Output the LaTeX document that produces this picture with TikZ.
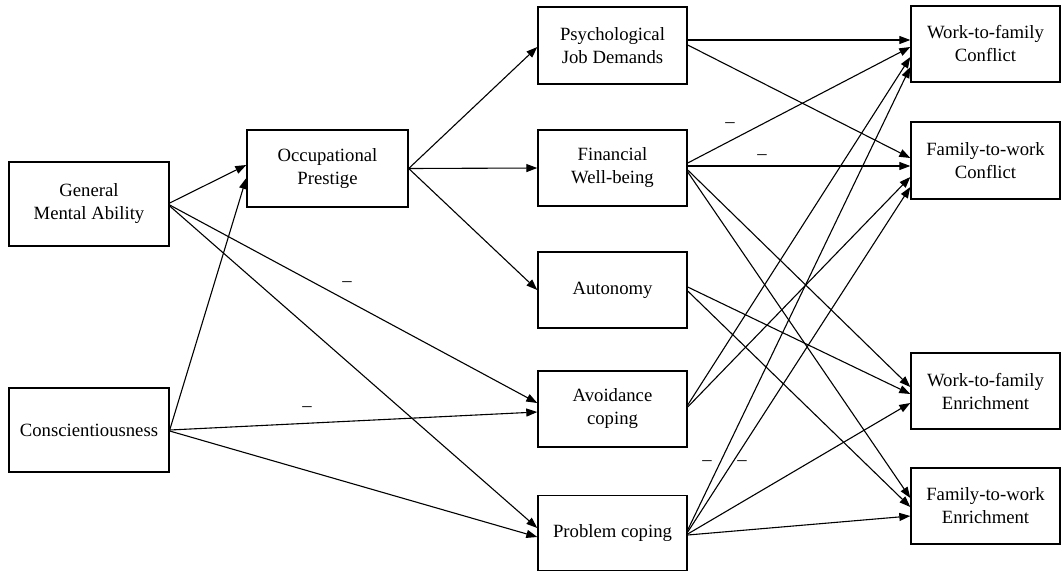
\documentclass[tikz,border=0pt]{standalone}
\usepackage{fontspec}
\setmainfont{Liberation Serif}
\usetikzlibrary{arrows.meta}
\tikzset{
  box/.style={draw, line width=1.4pt, rectangle, align=center, inner sep=0pt,
    font=\fontsize{18.7}{23}\selectfont, text=black},
  arr/.style={line width=1.1pt, -{Triangle[length=11pt,width=8pt]}},
  lbl/.style={inner sep=0pt, font=\fontsize{18.7}{23}\selectfont}
}
\begin{document}
\begin{tikzpicture}[x=1pt,y=-1pt]
\useasboundingbox (0,0) rectangle (1064,574);
% left column
\node[box, minimum width=160pt, minimum height=84pt] (GMA) at (89,204) {General\\Mental Ability};
\node[box, minimum width=160pt, minimum height=84pt] (CON) at (89,430) {Conscientiousness};
\node[box, minimum width=161pt, minimum height=77pt] (OP) at (327.5,168.5) {Occupational\\Prestige};
% middle column
\node[box, minimum width=149pt, minimum height=77pt] (PJD) at (612.5,45.5) {Psychological\\Job Demands};
\node[box, minimum width=149pt, minimum height=76pt] (FWB) at (612.5,168) {Financial\\Well-being};
\node[box, minimum width=149pt, minimum height=76pt] (AUT) at (612.5,290) {Autonomy};
\node[box, minimum width=149pt, minimum height=76pt] (AVO) at (612.5,409) {Avoidance\\coping};
\node[box, minimum width=149pt, minimum height=75pt] (PC) at (612.5,533) {Problem coping};
% right column
\node[box, minimum width=149pt, minimum height=76pt] (WFC) at (985.5,44) {Work-to-family\\Conflict};
\node[box, minimum width=149pt, minimum height=77pt] (FWC) at (985.5,160.5) {Family-to-work\\Conflict};
\node[box, minimum width=149pt, minimum height=76pt] (WFE) at (985.5,391) {Work-to-family\\Enrichment};
\node[box, minimum width=149pt, minimum height=76pt] (FWE) at (985.5,506) {Family-to-work\\Enrichment};
% left connectors
\draw[arr] ([yshift=1pt]GMA.east) -- ([yshift=3.5pt]OP.west);
\draw[arr] (CON.east) -- ([yshift=-9.5pt]OP.west);
\draw[arr] ([yshift=-1pt]GMA.east) -- ([yshift=6pt]AVO.west);
\draw[arr] ([yshift=-2pt]GMA.east) -- ([yshift=5pt]PC.west);
\draw[arr] (CON.east) -- ([yshift=-3pt]AVO.west);
\draw[arr] ([yshift=-1pt]CON.east) -- ([yshift=-4pt]PC.west);
% occupational prestige
\draw[arr] (OP.east) -- ([yshift=-1.5pt]PJD.west);
\draw[arr] (OP.east) -- (FWB.west);
\draw[arr] (OP.east) -- (AUT.west);
% middle to right
\draw[arr] ([yshift=5.5pt]PJD.east) -- ([yshift=4pt]WFC.west);
\draw[arr] ([yshift=0.5pt]PJD.east) -- ([yshift=2.5pt]FWC.west);
\draw[arr] ([yshift=5pt]FWB.east) -- ([yshift=-3pt]WFC.west);
\draw[arr] ([yshift=2pt]FWB.east) -- ([yshift=-5.5pt]FWC.west);
\draw[arr] ([yshift=-2pt]FWB.east) -- ([yshift=4pt]WFE.west);
\draw[arr] ([yshift=-4pt]FWB.east) -- ([yshift=8pt]FWE.west);
\draw[arr] ([yshift=3pt]AUT.east) -- ([yshift=-3pt]WFE.west);
\draw[arr] ([yshift=-1pt]AUT.east) -- ([yshift=-1pt]FWE.west);
\draw[arr] ([yshift=4pt]AVO.east) -- ([yshift=-13pt]WFC.west);
\draw[arr] ([yshift=2pt]AVO.east) -- ([yshift=-16.5pt]FWC.west);
\draw[arr] ([yshift=3pt]PC.east) -- ([yshift=-23pt]WFC.west);
\draw[arr] ([yshift=1pt]PC.east) -- ([yshift=-26.5pt]FWC.west);
\draw[arr] ([yshift=-1pt]PC.east) -- ([yshift=-12pt]WFE.west);
\draw[arr] ([yshift=-2pt]PC.east) -- ([yshift=-10pt]FWE.west);
% sign labels
\node[lbl] (s1) at (730,125) {–};
\node[lbl] (s2) at (762,157) {–};
\node[lbl] (s3) at (347,284) {–};
\node[lbl] (s4) at (307,409) {–};
\node[lbl] (s5) at (707,463) {–};
\node[lbl] (s6) at (742,463) {–};
\end{tikzpicture}
\end{document}
